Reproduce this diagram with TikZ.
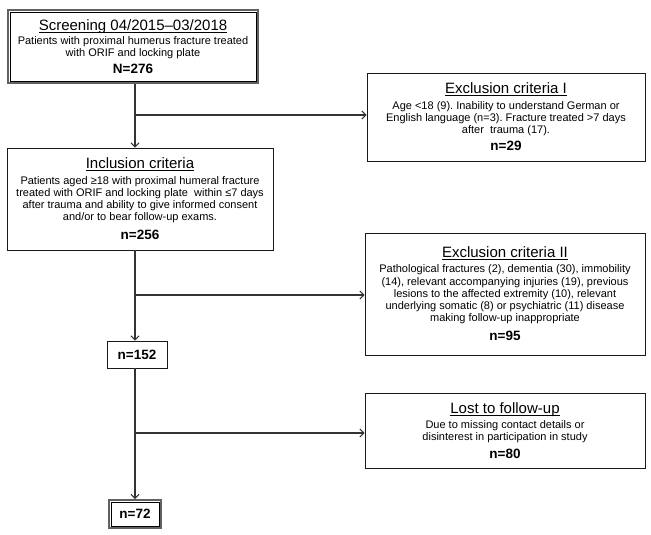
\documentclass[tikz,border=0pt]{standalone}
\usepackage{fontspec}
\setmainfont{Liberation Sans}
\usetikzlibrary{arrows.meta}
\frenchspacing
\newcommand\myul[1]{\setbox0\hbox{#1}\rlap{\rule[-2.3pt]{\wd0}{0.9pt}}\box0}
\newcommand\ttl[1]{{\fontsize{15}{17}\selectfont\myul{#1}}}
\newcommand\bdy{\fontsize{11}{12.2}\selectfont\frenchspacing}
\newcommand\cnt[1]{{\fontsize{13.5}{15}\selectfont\bfseries #1}}
\tikzset{
  box/.style={draw=black!90, line width=0.9pt, fill=white, rectangle, align=center, inner sep=0pt, font=\bdy},
  dbox/.style={box, draw=black!62, line width=2.3pt},
  inner/.style={draw=black, line width=0.8pt},
  conn/.style={draw=black!80, line width=1.1pt},
  arr/.style={conn, -{Straight Barb[length=4pt, width=8pt, line width=1pt]}}
}
\begin{document}
\begin{tikzpicture}[x=1pt, y=-1pt]
\useasboundingbox (0,0) rectangle (651,535);
\node[dbox, minimum width=249.6pt, minimum height=72.6pt] (scr) at (133,46.5)
  {\ttl{Screening 04/2015–03/2018}\\[2pt]
   Patients with proximal humerus fracture treated\\
   with ORIF and locking plate\\[4pt]
   \cnt{N=276}};
\draw[inner] ([shift={(3,3)}]scr.north west) rectangle ([shift={(-3,-3)}]scr.south east);
\node[box, minimum width=278pt, minimum height=88pt] (ex1) at (506,117)
  {\ttl{Exclusion criteria I}\\[3pt]
   Age <18 (9). Inability to understand German or\\
   English language (n=3). Fracture treated >7 days\\
   after\ \ trauma (17).\\[5pt]
   \cnt{n=29}};
\node[box, minimum width=266pt, minimum height=102pt] (inc) at (140,199)
  {\ttl{Inclusion criteria}\\[3pt]
   Patients aged ≥18 with proximal humeral fracture\\
   treated with ORIF and locking plate\ \ within ≤7 days\\
   after trauma and ability to give informed consent\\
   and/or to bear follow-up exams.\\[7pt]
   \cnt{n=256}};
\node[box, minimum width=280pt, minimum height=122pt] (ex2) at (505,294)
  {\ttl{Exclusion criteria II}\\[3pt]
   Pathological fractures (2), dementia (30), immobility\\
   (14), relevant accompanying injuries (19), previous\\
   lesions to the affected extremity (10), relevant\\
   underlying somatic (8) or psychiatric (11) disease\\
   making follow-up inappropriate\\[7pt]
   \cnt{n=95}};
\node[box, minimum width=60pt, minimum height=27pt] (n152) at (137,354.5) {\cnt{n=152}};
\node[box, minimum width=280pt, minimum height=75pt] (lost) at (505,430.5)
  {\ttl{Lost to follow-up}\\[3pt]
   Due to missing contact details or\\
   disinterest in participation in study\\[5pt]
   \cnt{n=80}};
\node[dbox, minimum width=51.7pt, minimum height=27.7pt] (n72) at (135,514) {\cnt{n=72}};
\draw[inner] ([shift={(3,3)}]n72.north west) rectangle ([shift={(-3,-3)}]n72.south east);
\coordinate (sp) at (135,0);
\coordinate (b1) at (135,115);
\coordinate (b2) at (135,295);
\coordinate (b3) at (135,433);
\draw[arr] (scr.south -| sp) -- (inc.north -| sp);
\draw[arr] (b1) -- (b1 -| ex1.west);
\draw[arr] (inc.south -| sp) -- (n152.north -| sp);
\draw[arr] (b2) -- (b2 -| ex2.west);
\draw[arr] (n152.south -| sp) -- (n72.north -| sp);
\draw[arr] (b3) -- (b3 -| lost.west);
\end{tikzpicture}
\end{document}
